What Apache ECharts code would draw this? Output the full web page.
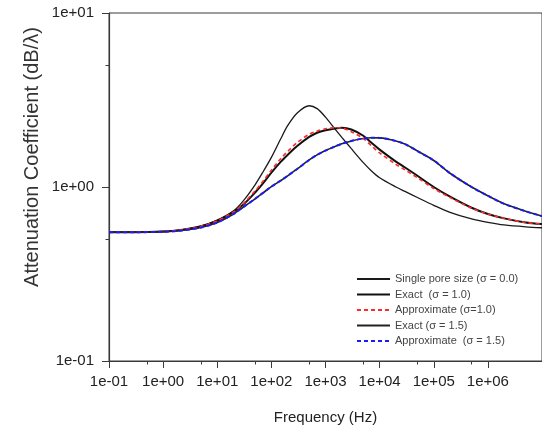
<!DOCTYPE html>
<html>
<head>
<meta charset="utf-8">
<script src="https://cdn.jsdelivr.net/npm/echarts@6/dist/echarts.min.js"></script>
<style>
html,body{margin:0;padding:0;background:#fff;}
#chart{width:542px;height:430px;}
</style>
</head>
<body>
<div id="chart"></div>
<script>
// Frequencies (Hz)
const freqs = [0.1, 0.3, 1, 2, 5, 10, 20, 30, 50, 70, 100, 150, 200, 300, 500, 700, 1000, 1500, 2000, 3000, 5000, 7000, 1e4, 2e4, 3e4, 5e4, 1e5, 2e5, 5e5, 1e6, 2e6, 5e6, 1e7];
// Attenuation coefficient (dB/λ)
const singlePore = [0.55, 0.55, 0.555, 0.565, 0.595, 0.645, 0.73, 0.83, 1.03, 1.22, 1.48, 1.90, 2.25, 2.66, 2.93, 2.82, 2.52, 2.15, 1.93, 1.66, 1.38, 1.24, 1.13, 1.00, 0.94, 0.87, 0.785, 0.715, 0.655, 0.626, 0.605, 0.59, 0.583];
const exact10 = [0.55, 0.55, 0.555, 0.565, 0.595, 0.64, 0.72, 0.79, 0.93, 1.05, 1.21, 1.40, 1.53, 1.72, 1.94, 2.05, 2.12, 2.17, 2.19, 2.14, 1.97, 1.80, 1.64, 1.40, 1.29, 1.16, 1.00, 0.88, 0.76, 0.70, 0.66, 0.625, 0.612];
const approx10 = [0.55, 0.55, 0.555, 0.565, 0.595, 0.64, 0.72, 0.80, 0.95, 1.08, 1.25, 1.46, 1.60, 1.80, 2.01, 2.10, 2.16, 2.19, 2.18, 2.08, 1.90, 1.73, 1.57, 1.35, 1.25, 1.13, 0.98, 0.87, 0.755, 0.70, 0.66, 0.625, 0.612];
const exact15 = [0.55, 0.55, 0.553, 0.56, 0.585, 0.625, 0.70, 0.765, 0.855, 0.925, 1.005, 1.09, 1.16, 1.27, 1.43, 1.53, 1.62, 1.71, 1.77, 1.84, 1.90, 1.92, 1.915, 1.84, 1.76, 1.61, 1.42, 1.20, 1.00, 0.89, 0.80, 0.725, 0.68];
const approx15 = [0.55, 0.55, 0.553, 0.56, 0.585, 0.625, 0.70, 0.765, 0.855, 0.925, 1.005, 1.09, 1.16, 1.27, 1.43, 1.53, 1.62, 1.71, 1.77, 1.84, 1.90, 1.92, 1.915, 1.84, 1.76, 1.61, 1.42, 1.20, 1.00, 0.89, 0.80, 0.725, 0.68];

const seriesNames = ['Single pore size (\u03c3 = 0.0)', 'Exact  (\u03c3 = 1.0)', 'Approximate (\u03c3=1.0)', 'Exact (\u03c3 = 1.5)', 'Approximate  (\u03c3 = 1.5)'];

// Axis ticks and labels
const xTickValues = [0.1, 1, 10, 100, 1000, 1e4, 1e5, 1e6];
const xTickLabels = ['1e-01', '1e+00', '1e+01', '1e+02', '1e+03', '1e+04', '1e+05', '1e+06'];
const xMinorTicks = [0.5, 5, 50, 500, 5000, 5e4, 5e5];
const yTickValues = [0.1, 1, 10];
const yTickLabels = ['1e-01', '1e+00', '1e+01'];
const yMinorTicks = [0.5, 5];

const xTitle = 'Frequency (Hz)';
const yTitle = 'Attenuation Coefficient (dB/\u03bb)';

const FONT = "'Liberation Sans', Arial, sans-serif";
const AX = '#3a3a3a';

function labelFor(values, labels) {
  return function (v) {
    for (let i = 0; i < values.length; i++) {
      if (Math.abs(Math.log10(v) - Math.log10(values[i])) < 1e-6) return labels[i];
    }
    return '';
  };
}

function pairs(vals) { return freqs.map((f, i) => [f, vals[i]]); }

const chart = echarts.init(document.getElementById('chart'), null, {renderer: 'canvas'});

const option = {
  animation: false,
  backgroundColor: '#fff',
  grid: {left: 109, top: 13, right: -4, bottom: 69, show: true, borderColor: AX, borderWidth: 1, backgroundColor: 'transparent'},
  xAxis: [
    {
      type: 'log', logBase: 10, min: 0.1, max: 1e7, position: 'bottom',
      axisLine: {show: true, lineStyle: {color: AX, width: 1.2}},
      axisTick: {show: true, length: 7, inside: false, lineStyle: {color: AX, width: 1}, customValues: xTickValues},
      axisLabel: {show: true, margin: 13, fontSize: 15, fontFamily: FONT, color: '#222', customValues: xTickValues, formatter: labelFor(xTickValues, xTickLabels)},
      splitLine: {show: false},
      minorTick: {show: false},
      name: xTitle, nameLocation: 'middle', nameGap: 49,
      nameTextStyle: {fontSize: 15, fontFamily: FONT, color: '#222'}
    },
    {
      type: 'log', logBase: 10, min: 0.1, max: 1e7, position: 'bottom',
      axisLine: {show: false},
      axisTick: {show: true, length: 3.5, lineStyle: {color: AX, width: 1}, customValues: xMinorTicks},
      axisLabel: {show: false},
      splitLine: {show: false}
    }
  ],
  yAxis: [
    {
      type: 'log', logBase: 10, min: 0.1, max: 10, position: 'left',
      axisLine: {show: true, lineStyle: {color: AX, width: 1.2}},
      axisTick: {show: true, length: 7, lineStyle: {color: AX, width: 1}, customValues: yTickValues},
      axisLabel: {show: true, margin: 15, fontSize: 15, fontFamily: FONT, color: '#222', customValues: yTickValues, formatter: labelFor(yTickValues, yTickLabels)},
      splitLine: {show: false}
    },
    {
      type: 'log', logBase: 10, min: 0.1, max: 10, position: 'left',
      axisLine: {show: false},
      axisTick: {show: true, length: 3.5, lineStyle: {color: AX, width: 1}, customValues: yMinorTicks},
      axisLabel: {show: false},
      splitLine: {show: false}
    }
  ],
  legend: {
    orient: 'vertical', left: 351, top: 268.5,
    itemWidth: 33, itemHeight: 10, itemGap: 4.5,
    itemStyle: {opacity: 0},
    textStyle: {fontSize: 11, fontFamily: FONT, color: '#444'},
    data: seriesNames
  },
  graphic: [
    {
      type: 'text', x: 32, y: 157, rotation: Math.PI / 2,
      style: {text: yTitle, font: '20px ' + FONT, fill: '#333', align: 'center', verticalAlign: 'middle'}
    }
  ],
  series: [
    {name: seriesNames[0], type: 'line', data: pairs(singlePore), symbol: 'none', smooth: 0.3,
     lineStyle: {color: '#1a1a1a', width: 1.3}, itemStyle: {color: '#1a1a1a'}, z: 2},
    {name: seriesNames[1], type: 'line', data: pairs(exact10), symbol: 'none', smooth: 0.3,
     lineStyle: {color: '#111', width: 2}, itemStyle: {color: '#111'}, z: 2},
    {name: seriesNames[2], type: 'line', data: pairs(approx10), symbol: 'none', smooth: 0.3,
     lineStyle: {color: '#ff2a2a', width: 1.6, type: [4, 3]}, itemStyle: {color: '#ff2a2a'}, z: 3},
    {name: seriesNames[3], type: 'line', data: pairs(exact15), symbol: 'none', smooth: 0.3,
     lineStyle: {color: '#222', width: 1.6}, itemStyle: {color: '#222'}, z: 2},
    {name: seriesNames[4], type: 'line', data: pairs(approx15), symbol: 'none', smooth: 0.3,
     lineStyle: {color: '#1a1aff', width: 2, type: [4, 3]}, itemStyle: {color: '#1a1aff'}, z: 3}
  ]
};
chart.setOption(option);
</script>
</body>
</html>
